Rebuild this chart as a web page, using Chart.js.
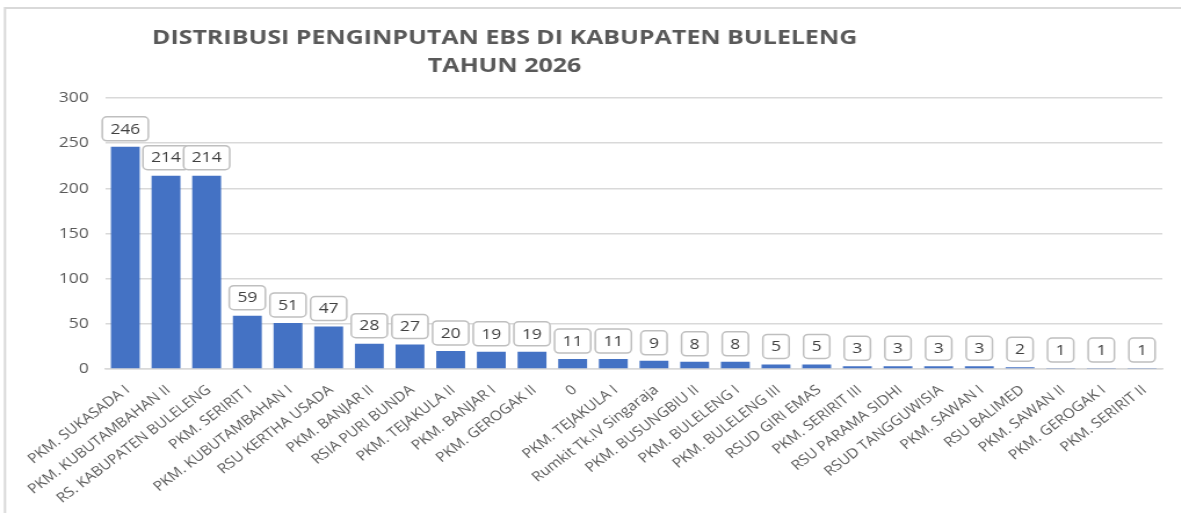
<!DOCTYPE html>
<html>
<head>
<meta charset="utf-8">
<title>Distribusi Penginputan EBS</title>
<script src="https://cdn.jsdelivr.net/npm/chart.js@4.4.1/dist/chart.umd.min.js"></script>
<style>
  html, body { margin: 0; padding: 0; background: #fff; overflow: hidden; }
  /* the source picture is stretched sideways, so the whole chart is too */
  #wrap { width: 1018px; height: 513px; transform: scaleX(1.16); transform-origin: 0 0; }
  canvas { display: block; }
</style>
</head>
<body>
<div id="wrap">
  <canvas id="ebsChart" width="1018" height="513"></canvas>
</div>
<script>
// ==================== DATA ====================
const categories = [
  'PKM. SUKASADA I', 'PKM. KUBUTAMBAHAN II', 'RS. KABUPATEN BULELENG', 'PKM. SERIRIT I',
  'PKM. KUBUTAMBAHAN I', 'RSU KERTHA USADA', 'PKM. BANJAR II', 'RSIA PURI BUNDA',
  'PKM. TEJAKULA II', 'PKM. BANJAR I', 'PKM. GEROGAK II', '0', 'PKM. TEJAKULA I',
  'Rumkit Tk.IV Singaraja', 'PKM. BUSUNGBIU II', 'PKM. BULELENG I', 'PKM. BULELENG III',
  'RSUD GIRI EMAS', 'PKM. SERIRIT III', 'RSU PARAMA SIDHI', 'RSUD TANGGUWISIA',
  'PKM. SAWAN I', 'RSU BALIMED', 'PKM. SAWAN II', 'PKM. GEROGAK I', 'PKM. SERIRIT II'
];
const values = [246, 214, 214, 59, 51, 47, 28, 27, 20, 19, 19, 11, 11, 9, 8, 8, 5, 5, 3, 3, 3, 3, 2, 1, 1, 1];
const yTicks = [0, 50, 100, 150, 200, 250, 300];
const titleLines = ['DISTRIBUSI PENGINPUTAN EBS DI KABUPATEN BULELENG', 'TAHUN 2026'];

const FONT = '"Open Sans", "DejaVu Sans", sans-serif';

// ==================== FRAME + TITLE ====================
const frameTitle = {
  id: 'frameTitle',
  beforeDraw(chart) {
    const c = chart.ctx;
    c.save();
    c.strokeStyle = '#d9d9d9';
    c.lineWidth = 2;
    c.beginPath();
    c.moveTo(4.3, chart.height);
    c.lineTo(4.3, 8);
    c.lineTo(chart.width, 8);
    c.stroke();

    // title is a bit wider than the font gives, squeeze it out to 608px
    c.fillStyle = '#595959';
    c.font = 'bold 19px ' + FONT;
    c.textAlign = 'center';
    c.textBaseline = 'middle';
    const sx = 608 / c.measureText(titleLines[0]).width;
    c.translate(435, 0);
    c.scale(sx, 1);
    c.fillText(titleLines[0], 0, 39);
    c.fillText(titleLines[1], 0, 67);
    c.restore();
  }
};

// ==================== VALUE LABELS ====================
const valueBoxes = {
  id: 'valueBoxes',
  afterDatasetsDraw(chart) {
    const c = chart.ctx;
    const meta = chart.getDatasetMeta(0);
    c.save();
    c.font = '15px ' + FONT;
    c.textAlign = 'center';
    c.textBaseline = 'middle';
    meta.data.forEach((bar, i) => {
      const txt = String(values[i]);
      const w = c.measureText(txt).width + 14;
      const h = 24;
      const x = bar.x - w / 2;
      const y = bar.y - 6 - h;
      c.beginPath();
      c.roundRect(x, y, w, h, 4);
      c.fillStyle = '#ffffff';
      c.fill();
      c.strokeStyle = '#bfbfbf';
      c.lineWidth = 1.5;
      c.stroke();
      c.fillStyle = '#404040';
      c.fillText(txt, bar.x, y + h / 2 + 0.5);
    });
    c.restore();
  }
};

// ==================== CHART ====================
new Chart(document.getElementById('ebsChart'), {
  type: 'bar',
  data: {
    labels: categories,
    datasets: [{
      data: values,
      backgroundColor: '#4472c4',
      categoryPercentage: 1,
      barPercentage: 0.71
    }]
  },
  options: {
    responsive: false,
    animation: false,
    layout: { padding: { left: 4, right: 16, top: 98, bottom: 0 } },
    plugins: {
      legend: { display: false },
      tooltip: { enabled: false }
    },
    scales: {
      x: {
        grid: { display: false },
        border: { color: '#d9d9d9', width: 1.5 },
        ticks: {
          color: '#595959',
          font: { family: FONT, size: 13.5 },
          minRotation: 41,
          maxRotation: 41,
          autoSkip: false,
          padding: 5,
          labelOffset: 2
        },
        afterFit(scale) { scale.height = 144; }
      },
      y: {
        min: 0,
        max: 300,
        afterBuildTicks(scale) { scale.ticks = yTicks.map(v => ({ value: v })); },
        grid: { color: '#d9d9d9', lineWidth: 1.5, drawTicks: false },
        border: { display: false },
        ticks: {
          color: '#595959',
          font: { family: FONT, size: 15 },
          padding: 14
        },
        afterFit(scale) { scale.width = 86.5; }
      }
    }
  },
  plugins: [frameTitle, valueBoxes]
});
</script>
</body>
</html>
